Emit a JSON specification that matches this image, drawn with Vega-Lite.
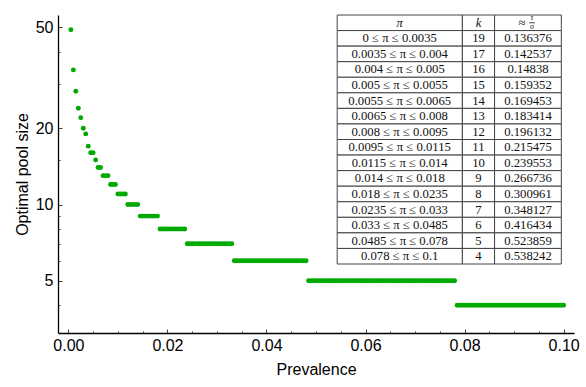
{
  "$schema": "https://vega.github.io/schema/vega-lite/v6.json",
  "autosize": {"type": "none"},
  "width": 516,
  "height": 318,
  "padding": {"left": 58, "top": 15, "right": 12, "bottom": 54},
  "background": "white",
  "config": {"view": {"stroke": null}},
  "datasets": {
    "points": [
      {"p":0.0005,"k":49},{"p":0.001,"k":34},{"p":0.0015,"k":28},{"p":0.002,"k":24},{"p":0.0025,"k":22},{"p":0.003,"k":20},{"p":0.0035,"k":19},{"p":0.004,"k":17},{"p":0.0045,"k":16},{"p":0.005,"k":16},
      {"p":0.0055,"k":15},{"p":0.006,"k":14},{"p":0.0065,"k":14},{"p":0.007,"k":13},{"p":0.0075,"k":13},{"p":0.008,"k":13},{"p":0.0085,"k":12},{"p":0.009,"k":12},{"p":0.0095,"k":12},
      {"p":0.01,"k":11},{"p":0.0105,"k":11},{"p":0.011,"k":11},{"p":0.0115,"k":11},
      {"p":0.012,"k":10},{"p":0.0125,"k":10},{"p":0.013,"k":10},{"p":0.0135,"k":10},{"p":0.014,"k":10},
      {"p":0.0145,"k":9},{"p":0.015,"k":9},{"p":0.0155,"k":9},{"p":0.016,"k":9},{"p":0.0165,"k":9},{"p":0.017,"k":9},{"p":0.0175,"k":9},{"p":0.018,"k":9},
      {"p":0.0185,"k":8},{"p":0.019,"k":8},{"p":0.0195,"k":8},{"p":0.02,"k":8},{"p":0.0205,"k":8},{"p":0.021,"k":8},{"p":0.0215,"k":8},{"p":0.022,"k":8},{"p":0.0225,"k":8},{"p":0.023,"k":8},{"p":0.0235,"k":8},
      {"p":0.024,"k":7},{"p":0.0245,"k":7},{"p":0.025,"k":7},{"p":0.0255,"k":7},{"p":0.026,"k":7},{"p":0.0265,"k":7},{"p":0.027,"k":7},{"p":0.0275,"k":7},{"p":0.028,"k":7},{"p":0.0285,"k":7},{"p":0.029,"k":7},{"p":0.0295,"k":7},{"p":0.03,"k":7},{"p":0.0305,"k":7},{"p":0.031,"k":7},{"p":0.0315,"k":7},{"p":0.032,"k":7},{"p":0.0325,"k":7},{"p":0.033,"k":7},
      {"p":0.0335,"k":6},{"p":0.034,"k":6},{"p":0.0345,"k":6},{"p":0.035,"k":6},{"p":0.0355,"k":6},{"p":0.036,"k":6},{"p":0.0365,"k":6},{"p":0.037,"k":6},{"p":0.0375,"k":6},{"p":0.038,"k":6},{"p":0.0385,"k":6},{"p":0.039,"k":6},{"p":0.0395,"k":6},{"p":0.04,"k":6},{"p":0.0405,"k":6},{"p":0.041,"k":6},{"p":0.0415,"k":6},{"p":0.042,"k":6},{"p":0.0425,"k":6},{"p":0.043,"k":6},{"p":0.0435,"k":6},{"p":0.044,"k":6},{"p":0.0445,"k":6},{"p":0.045,"k":6},{"p":0.0455,"k":6},{"p":0.046,"k":6},{"p":0.0465,"k":6},{"p":0.047,"k":6},{"p":0.0475,"k":6},{"p":0.048,"k":6},
      {"p":0.0485,"k":5},{"p":0.049,"k":5},{"p":0.0495,"k":5},{"p":0.05,"k":5},{"p":0.0505,"k":5},{"p":0.051,"k":5},{"p":0.0515,"k":5},{"p":0.052,"k":5},{"p":0.0525,"k":5},{"p":0.053,"k":5},{"p":0.0535,"k":5},{"p":0.054,"k":5},{"p":0.0545,"k":5},{"p":0.055,"k":5},{"p":0.0555,"k":5},{"p":0.056,"k":5},{"p":0.0565,"k":5},{"p":0.057,"k":5},{"p":0.0575,"k":5},{"p":0.058,"k":5},{"p":0.0585,"k":5},{"p":0.059,"k":5},{"p":0.0595,"k":5},{"p":0.06,"k":5},{"p":0.0605,"k":5},{"p":0.061,"k":5},{"p":0.0615,"k":5},{"p":0.062,"k":5},{"p":0.0625,"k":5},{"p":0.063,"k":5},{"p":0.0635,"k":5},{"p":0.064,"k":5},{"p":0.0645,"k":5},{"p":0.065,"k":5},{"p":0.0655,"k":5},{"p":0.066,"k":5},{"p":0.0665,"k":5},{"p":0.067,"k":5},{"p":0.0675,"k":5},{"p":0.068,"k":5},{"p":0.0685,"k":5},{"p":0.069,"k":5},{"p":0.0695,"k":5},{"p":0.07,"k":5},{"p":0.0705,"k":5},{"p":0.071,"k":5},{"p":0.0715,"k":5},{"p":0.072,"k":5},{"p":0.0725,"k":5},{"p":0.073,"k":5},{"p":0.0735,"k":5},{"p":0.074,"k":5},{"p":0.0745,"k":5},{"p":0.075,"k":5},{"p":0.0755,"k":5},{"p":0.076,"k":5},{"p":0.0765,"k":5},{"p":0.077,"k":5},{"p":0.0775,"k":5},{"p":0.078,"k":5},
      {"p":0.0785,"k":4},{"p":0.079,"k":4},{"p":0.0795,"k":4},{"p":0.08,"k":4},{"p":0.0805,"k":4},{"p":0.081,"k":4},{"p":0.0815,"k":4},{"p":0.082,"k":4},{"p":0.0825,"k":4},{"p":0.083,"k":4},{"p":0.0835,"k":4},{"p":0.084,"k":4},{"p":0.0845,"k":4},{"p":0.085,"k":4},{"p":0.0855,"k":4},{"p":0.086,"k":4},{"p":0.0865,"k":4},{"p":0.087,"k":4},{"p":0.0875,"k":4},{"p":0.088,"k":4},{"p":0.0885,"k":4},{"p":0.089,"k":4},{"p":0.0895,"k":4},{"p":0.09,"k":4},{"p":0.0905,"k":4},{"p":0.091,"k":4},{"p":0.0915,"k":4},{"p":0.092,"k":4},{"p":0.0925,"k":4},{"p":0.093,"k":4},{"p":0.0935,"k":4},{"p":0.094,"k":4},{"p":0.0945,"k":4},{"p":0.095,"k":4},{"p":0.0955,"k":4},{"p":0.096,"k":4},{"p":0.0965,"k":4},{"p":0.097,"k":4},{"p":0.0975,"k":4},{"p":0.098,"k":4},{"p":0.0985,"k":4},{"p":0.099,"k":4},{"p":0.0995,"k":4},{"p":0.1,"k":4}
    ],
    "table": [
      {"range":"π","k":"k","ratio":""},
      {"range":"0 ≤ π ≤ 0.0035","k":"19","ratio":"0.136376"},
      {"range":"0.0035 ≤ π ≤ 0.004","k":"17","ratio":"0.142537"},
      {"range":"0.004 ≤ π ≤ 0.005","k":"16","ratio":"0.14838"},
      {"range":"0.005 ≤ π ≤ 0.0055","k":"15","ratio":"0.159352"},
      {"range":"0.0055 ≤ π ≤ 0.0065","k":"14","ratio":"0.169453"},
      {"range":"0.0065 ≤ π ≤ 0.008","k":"13","ratio":"0.183414"},
      {"range":"0.008 ≤ π ≤ 0.0095","k":"12","ratio":"0.196132"},
      {"range":"0.0095 ≤ π ≤ 0.0115","k":"11","ratio":"0.215475"},
      {"range":"0.0115 ≤ π ≤ 0.014","k":"10","ratio":"0.239553"},
      {"range":"0.014 ≤ π ≤ 0.018","k":"9","ratio":"0.266736"},
      {"range":"0.018 ≤ π ≤ 0.0235","k":"8","ratio":"0.300961"},
      {"range":"0.0235 ≤ π ≤ 0.033","k":"7","ratio":"0.348127"},
      {"range":"0.033 ≤ π ≤ 0.0485","k":"6","ratio":"0.416434"},
      {"range":"0.0485 ≤ π ≤ 0.078","k":"5","ratio":"0.523859"},
      {"range":"0.078 ≤ π ≤ 0.1","k":"4","ratio":"0.538242"}
    ]
  },
  "resolve": {"scale": {"y": "independent"}, "axis": {"x": "independent"}},
  "layer": [
    {
      "data": {"name": "points"},
      "mark": {"type": "circle", "size": 24, "opacity": 1, "color": "#00aa00"},
      "encoding": {
        "x": {
          "field": "p", "type": "quantitative",
          "scale": {"domain": [-0.0021, 0.1021], "nice": false, "zero": false},
          "axis": {
            "title": "Prevalence",
            "values": [0,0.005,0.01,0.015,0.02,0.025,0.03,0.035,0.04,0.045,0.05,0.055,0.06,0.065,0.07,0.075,0.08,0.085,0.09,0.095,0.1],
            "labelExpr": "abs(round(datum.value*50) - datum.value*50) < 0.001 ? format(datum.value, '.2f') : ''",
            "labelOverlap": false,
            "labelFlush": false,
            "grid": false,
            "domainColor": "black", "domainWidth": 1.3,
            "tickColor": "#444", "tickWidth": 1,
            "tickSize": {"condition": {"test": "abs(round(datum.value*50) - datum.value*50) < 0.001", "value": -4}, "value": -2},
            "labelFont": "Liberation Sans", "labelFontSize": 16, "labelColor": "black", "labelPadding": 8,
            "titleFont": "Liberation Sans", "titleFontSize": 16, "titleFontWeight": "normal", "titleColor": "black", "titlePadding": 6
          }
        },
        "y": {
          "field": "k", "type": "quantitative",
          "scale": {"type": "log", "domain": [3.11, 56], "nice": false, "zero": false},
          "axis": {
            "title": "Optimal pool size",
            "values": [4,5,6,7,8,9,10,15,20,30,40,50],
            "labelExpr": "indexof([5,10,20,50], datum.value) >= 0 ? format(datum.value, 'd') : ''",
            "labelOverlap": false,
            "labelFlush": false,
            "grid": false,
            "domainColor": "black", "domainWidth": 1.3,
            "tickColor": "#444", "tickWidth": 1,
            "tickSize": {"condition": {"test": "indexof([5,10,20,50], datum.value) >= 0", "value": -4}, "value": -2},
            "labelFont": "Liberation Sans", "labelFontSize": 16, "labelColor": "black", "labelPadding": 9,
            "titleFont": "Liberation Sans", "titleFontSize": 16, "titleFontWeight": "normal", "titleColor": "black", "titlePadding": 5
          }
        }
      }
    },
    {
      "data": {"name": "table"},
      "encoding": {
        "y": {
          "field": "range", "type": "nominal", "sort": null, "axis": null,
          "scale": {"paddingInner": 0, "paddingOuter": 0, "range": [0, 249]}
        }
      },
      "layer": [
        {"mark": {"type": "rect", "fill": "white", "stroke": "#444", "strokeWidth": 1},
         "encoding": {"x": {"datum": 0.05428, "axis": null}, "x2": {"datum": 0.07956}}},
        {"mark": {"type": "rect", "fill": "white", "stroke": "#444", "strokeWidth": 1},
         "encoding": {"x": {"datum": 0.07956, "axis": null}, "x2": {"datum": 0.08606}}},
        {"mark": {"type": "rect", "fill": "white", "stroke": "#444", "strokeWidth": 1},
         "encoding": {"x": {"datum": 0.08606, "axis": null}, "x2": {"datum": 0.09954}}},
        {"transform": [{"filter": "datum.k != 'k'"}],
         "mark": {"type": "text", "font": "Liberation Serif", "fontSize": 12.7, "color": "#111", "baseline": "middle", "align": "center"},
         "encoding": {"x": {"datum": 0.0669, "axis": null}, "text": {"field": "range"}}},
        {"transform": [{"filter": "datum.k != 'k'"}],
         "mark": {"type": "text", "font": "Liberation Serif", "fontSize": 12.7, "color": "#111", "baseline": "middle", "align": "center"},
         "encoding": {"x": {"datum": 0.08281, "axis": null}, "text": {"field": "k"}}},
        {"transform": [{"filter": "datum.k != 'k'"}],
         "mark": {"type": "text", "font": "Liberation Serif", "fontSize": 12.7, "color": "#111", "baseline": "middle", "align": "center"},
         "encoding": {"x": {"datum": 0.09281, "axis": null}, "text": {"field": "ratio"}}},
        {"transform": [{"filter": "datum.k == 'k'"}],
         "mark": {"type": "text", "font": "Liberation Serif", "fontSize": 12.7, "fontStyle": "italic", "color": "#111", "baseline": "middle", "align": "center"},
         "encoding": {"x": {"datum": 0.0669, "axis": null}, "text": {"field": "range"}}},
        {"transform": [{"filter": "datum.k == 'k'"}],
         "mark": {"type": "text", "font": "Liberation Serif", "fontSize": 12.7, "fontStyle": "italic", "color": "#111", "baseline": "middle", "align": "center"},
         "encoding": {"x": {"datum": 0.08281, "axis": null}, "text": {"field": "k"}}},
        {"transform": [{"filter": "datum.k == 'k'"}],
         "mark": {"type": "text", "font": "Liberation Serif", "fontSize": 12.7, "color": "#111", "baseline": "middle", "align": "center", "dx": -6, "text": "≈"},
         "encoding": {"x": {"datum": 0.09281, "axis": null}}},
        {"transform": [{"filter": "datum.k == 'k'"}],
         "mark": {"type": "text", "font": "Liberation Serif", "fontSize": 8, "fontStyle": "italic", "color": "#111", "baseline": "middle", "align": "center", "dx": 4, "dy": -4.5, "text": "τ"},
         "encoding": {"x": {"datum": 0.09281, "axis": null}}},
        {"transform": [{"filter": "datum.k == 'k'"}],
         "mark": {"type": "text", "font": "Liberation Serif", "fontSize": 8, "fontStyle": "italic", "color": "#111", "baseline": "middle", "align": "center", "dx": 4, "dy": 4.5, "text": "σ"},
         "encoding": {"x": {"datum": 0.09281, "axis": null}}},
        {"transform": [{"filter": "datum.k == 'k'"}],
         "mark": {"type": "rule", "color": "#111", "strokeWidth": 0.8},
         "encoding": {"x": {"datum": 0.09305, "axis": null}, "x2": {"datum": 0.09418}, "y": {"field": "range", "type": "nominal", "sort": null, "axis": null, "bandPosition": 0.5}}}
      ]
    }
  ]
}
